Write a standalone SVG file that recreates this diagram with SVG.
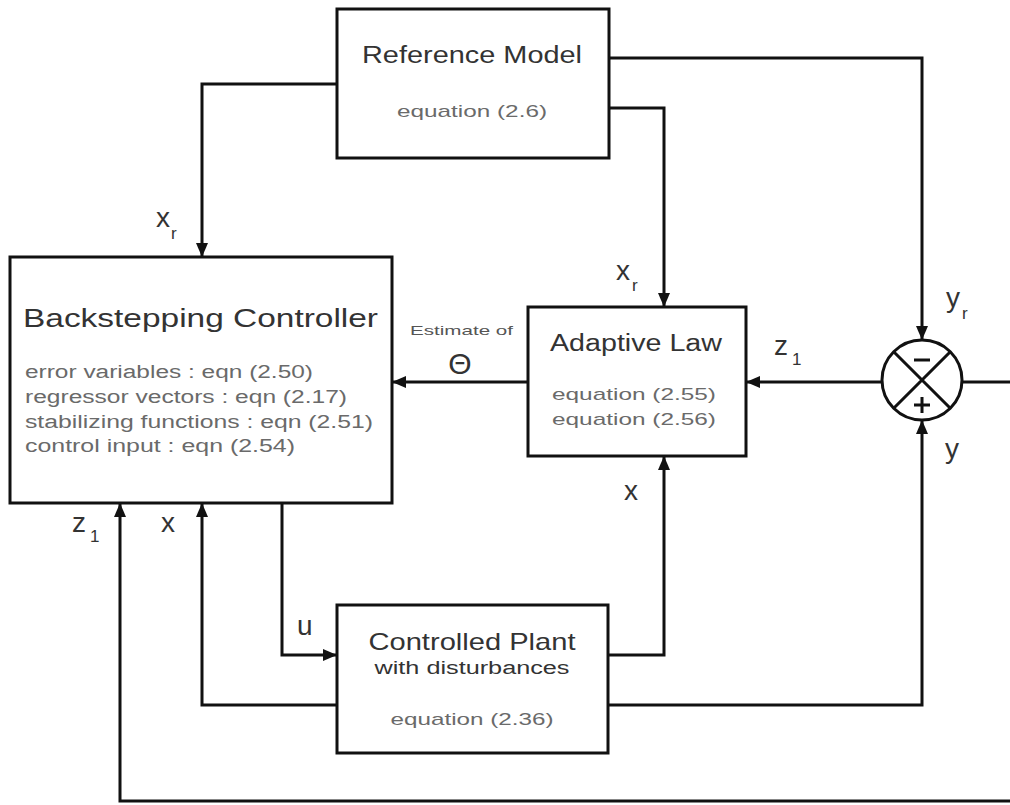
<svg xmlns="http://www.w3.org/2000/svg" width="1010" height="805" viewBox="0 0 1010 805">
  <defs>
    <marker id="arr" viewBox="0 0 14 12" refX="14" refY="6" markerWidth="14" markerHeight="12" markerUnits="userSpaceOnUse" orient="auto">
      <path d="M0,0 L14,6 L0,12 Z" fill="#111"/>
    </marker>
    <style>
      .box { fill: #fff; stroke: #111; stroke-width: 3; }
      .wire { fill: none; stroke: #111; stroke-width: 3; }
      .t { font-family: "Liberation Sans", Arial, sans-serif; }
      .title { fill: #333; }
      .body { fill: #6a6a6a; }
      .lbl { fill: #333; font-size: 28px; }
      .sub { fill: #333; font-size: 17px; }
    </style>
  </defs>
  <rect width="1010" height="805" fill="#fff"/>

  <g id="connectors">
    <path class="wire" d="M337,84 H202 V257" marker-end="url(#arr)"/>
    <path class="wire" d="M609,58 H922 V340" marker-end="url(#arr)"/>
    <path class="wire" d="M609,108 H664 V307" marker-end="url(#arr)"/>
    <path class="wire" d="M528,382 H392" marker-end="url(#arr)"/>
    <path class="wire" d="M882,382 H746" marker-end="url(#arr)"/>
    <path class="wire" d="M962,382 H1010"/>
    <path class="wire" d="M282,503 V655 H337" marker-end="url(#arr)"/>
    <path class="wire" d="M608,655 H664 V456" marker-end="url(#arr)"/>
    <path class="wire" d="M337,705 H202 V503" marker-end="url(#arr)"/>
    <path class="wire" d="M608,705 H922 V420" marker-end="url(#arr)"/>
    <path class="wire" d="M1012,801 H120 V503" marker-end="url(#arr)"/>
  </g>

  <g id="reference-model">
    <rect class="box" x="337" y="9" width="272" height="149"/>
    <text class="t title" x="472" y="63" font-size="23" text-anchor="middle" textLength="220" lengthAdjust="spacingAndGlyphs">Reference Model</text>
    <text class="t body" x="472" y="117" font-size="17" text-anchor="middle" textLength="150" lengthAdjust="spacingAndGlyphs">equation (2.6)</text>
  </g>

  <g id="backstepping-controller">
    <rect class="box" x="10" y="257" width="382" height="246"/>
    <text class="t title" x="23" y="327" font-size="26" textLength="355" lengthAdjust="spacingAndGlyphs">Backstepping Controller</text>
    <text class="t body" x="25" y="378" font-size="18" textLength="288" lengthAdjust="spacingAndGlyphs">error variables : eqn (2.50)</text>
    <text class="t body" x="25" y="403" font-size="18" textLength="322" lengthAdjust="spacingAndGlyphs">regressor vectors : eqn (2.17)</text>
    <text class="t body" x="25" y="428" font-size="18" textLength="348" lengthAdjust="spacingAndGlyphs">stabilizing functions : eqn (2.51)</text>
    <text class="t body" x="25" y="452" font-size="18" textLength="270" lengthAdjust="spacingAndGlyphs">control input : eqn (2.54)</text>
  </g>

  <g id="adaptive-law">
    <rect class="box" x="528" y="307" width="218" height="149"/>
    <text class="t title" x="550" y="351" font-size="23" textLength="172" lengthAdjust="spacingAndGlyphs">Adaptive Law</text>
    <text class="t body" x="552" y="400" font-size="17" textLength="164" lengthAdjust="spacingAndGlyphs">equation (2.55)</text>
    <text class="t body" x="552" y="425" font-size="17" textLength="164" lengthAdjust="spacingAndGlyphs">equation (2.56)</text>
  </g>

  <g id="controlled-plant">
    <rect class="box" x="337" y="605" width="271" height="148"/>
    <text class="t title" x="472" y="650" font-size="24" text-anchor="middle" textLength="207" lengthAdjust="spacingAndGlyphs">Controlled Plant</text>
    <text class="t title" x="472" y="674" font-size="18" text-anchor="middle" textLength="195" lengthAdjust="spacingAndGlyphs">with disturbances</text>
    <text class="t body" x="472" y="725" font-size="17" text-anchor="middle" textLength="163" lengthAdjust="spacingAndGlyphs">equation (2.36)</text>
  </g>

  <g id="summing-junction">
    <circle cx="922" cy="380" r="40" fill="#fff" stroke="#111" stroke-width="3"/>
    <path class="wire" d="M893.7,351.7 L950.3,408.3 M950.3,351.7 L893.7,408.3"/>
    <path d="M914,360 H930" stroke="#111" stroke-width="3"/>
    <path d="M914,405 H930 M922,397 V413" stroke="#111" stroke-width="3"/>
  </g>

  <g id="labels">
    <text class="t lbl" x="156" y="227">x</text>
    <text class="t sub" x="171" y="239">r</text>
    <text class="t lbl" x="616" y="280">x</text>
    <text class="t sub" x="632" y="291">r</text>
    <text class="t lbl" x="774" y="355">z</text>
    <text class="t sub" x="792" y="365">1</text>
    <text class="t lbl" x="946" y="307">y</text>
    <text class="t sub" x="962" y="319">r</text>
    <text class="t lbl" x="945" y="458">y</text>
    <text class="t lbl" x="624" y="500">x</text>
    <text class="t lbl" x="297" y="635">u</text>
    <text class="t lbl" x="72" y="532">z</text>
    <text class="t sub" x="90" y="542">1</text>
    <text class="t lbl" x="161" y="532">x</text>
    <text class="t" x="410" y="335" font-size="13" fill="#555" textLength="103" lengthAdjust="spacingAndGlyphs">Estimate of</text>
    <text class="t" x="460" y="374" font-size="30" fill="#333" text-anchor="middle">Θ</text>
  </g>
</svg>
